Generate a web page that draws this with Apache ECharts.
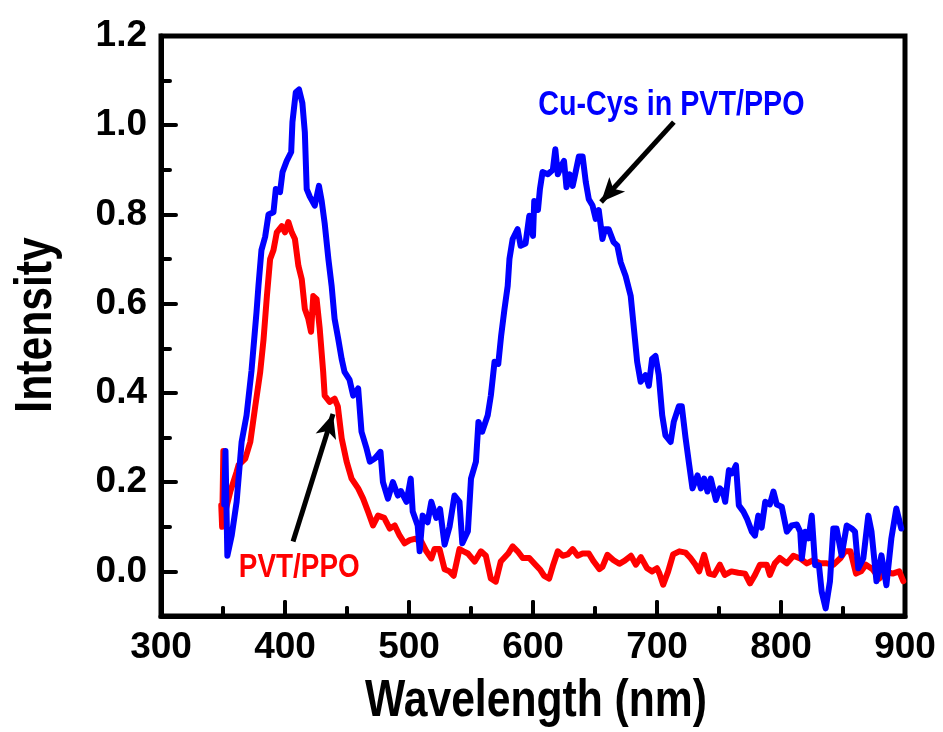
<!DOCTYPE html>
<html>
<head>
<meta charset="utf-8">
<script src="https://cdn.jsdelivr.net/npm/echarts@6/dist/echarts.min.js"></script>
<style>
html,body{margin:0;padding:0;background:#fff;}
#chart{width:943px;height:732px;}
</style>
</head>
<body>
<div id="chart"></div>
<script>
// ---- Data ----
const xTickLabels = ['300','400','500','600','700','800','900'];
const yTickLabels = ['0.0','0.2','0.4','0.6','0.8','1.0','1.2'];
const xTitle = 'Wavelength (nm)';
const yTitle = 'Intensity';

const blueName = 'Cu-Cys in PVT/PPO';
const blueWavelength = [351,352,353.5,357,361,365,369,373,377,378.6,381,384,386.7,390.7,392.6,396,398,401.4,405,406,408.7,411.3,414,416,417.5,420,424,427.4,429.6,432,435,437.6,440,443,445.7,448,452,455,459,461.7,465.8,468.4,472.4,477,479,483,487,491,493.5,498,501.4,503,507,508.6,511,515,518,522,525,528.7,532.7,536.7,540.7,543,547.5,550,554,556,559,563.5,566,569,572,574.3,577,579.6,581,583.6,587.6,590,594,597,600,601,604,605.6,607.7,612,616,618,620,622.7,625,627,629.6,632,634,637,640,642.6,645,648,650.6,653,656,658,661,665,668,670.7,674.7,678.8,681.4,684,686.8,690.8,693.4,696,698.8,701.4,704.2,706.8,711,713.5,717.6,720,723,726,728.6,732.7,735.4,738,740.7,743.4,747.5,750.7,753,755,758,760.6,763.7,766,769.7,772.4,776.5,779,781.7,784.4,787.3,791,793.9,796.6,800.6,804.7,808.7,812.8,815.5,816.8,819.5,822.2,824.8,827.5,830.6,832.8,836,839.5,842.2,844.8,848.9,853,857,859.7,862.3,866.4,870.4,873,877,881,885,889,893,897];
const blueIntensity = [0.15,0.27,0.035,0.08,0.156,0.29,0.35,0.45,0.58,0.64,0.72,0.75,0.80,0.805,0.857,0.85,0.895,0.92,0.94,1.007,1.074,1.08,1.05,0.984,0.857,0.84,0.82,0.864,0.83,0.78,0.70,0.64,0.566,0.52,0.476,0.447,0.43,0.394,0.41,0.313,0.275,0.246,0.253,0.268,0.20,0.163,0.20,0.17,0.18,0.156,0.208,0.134,0.103,0.045,0.125,0.11,0.156,0.12,0.14,0.06,0.10,0.17,0.156,0.063,0.09,0.208,0.246,0.335,0.313,0.35,0.394,0.47,0.465,0.528,0.588,0.64,0.70,0.745,0.767,0.73,0.735,0.797,0.752,0.83,0.81,0.857,0.895,0.89,0.90,0.946,0.89,0.908,0.92,0.861,0.89,0.864,0.89,0.93,0.93,0.872,0.834,0.82,0.79,0.81,0.745,0.767,0.767,0.738,0.73,0.693,0.662,0.617,0.544,0.47,0.425,0.44,0.416,0.476,0.483,0.44,0.35,0.305,0.29,0.335,0.37,0.37,0.30,0.238,0.186,0.215,0.186,0.208,0.179,0.208,0.16,0.186,0.18,0.156,0.227,0.22,0.238,0.148,0.134,0.119,0.089,0.08,0.125,0.098,0.156,0.15,0.179,0.15,0.145,0.089,0.103,0.105,0.089,0.029,0.089,0.074,0.125,0.014,0.014,-0.045,-0.083,-0.022,0.096,0.096,0.036,0.103,0.096,0.089,0.007,0.029,0.125,0.089,-0.022,0.036,-0.031,0.074,0.141,0.096];

const redName = 'PVT/PPO';
const redWavelength = [348.6,349.3,350.3,351.5,356,361,362.5,368,372,376,380,382.7,385.4,388,390.7,393.4,397.4,400,402.7,405.4,408,410.8,413.5,416,418.8,421,422.8,425.5,428,430.8,432,436,440,442.6,445.7,449.7,453.7,459,463,467,471,475,480,484.5,488.5,492.5,496.5,500.6,504.6,510,514,518,520.6,524.6,528.7,532.7,536,540.7,544,547.5,553,558,562,566,570,574,580,583.6,587.6,591.7,597,602,606,609,613,616,620,624,628,632,636,640,645,649,653.6,656,660,665,669.6,674,679,683,687,692,696,700,702,705,709,713,718,723,727,731,734,738,742,746,750.7,754.7,760,765.5,771,775,779,783,788.5,791,795,799,804.7,810,815.4,820.8,826,831.6,837,842.4,848,851.6,856,860.5,864.5,868.5,873.9,879.3,884.6,890,895.4,898.6];
const redIntensity = [0.148,0.10,0.27,0.13,0.18,0.223,0.238,0.253,0.29,0.37,0.447,0.52,0.617,0.70,0.72,0.76,0.774,0.76,0.783,0.76,0.745,0.685,0.655,0.588,0.566,0.537,0.617,0.61,0.544,0.447,0.394,0.38,0.387,0.37,0.298,0.246,0.208,0.186,0.163,0.134,0.103,0.125,0.12,0.096,0.103,0.08,0.063,0.07,0.073,0.067,0.045,0.029,0.05,0.05,0.005,0.0,-0.01,0.05,0.045,0.04,0.022,0.045,0.035,-0.016,-0.023,0.022,0.04,0.056,0.045,0.03,0.03,0.015,0.003,-0.01,-0.016,0.012,0.045,0.035,0.038,0.05,0.035,0.04,0.04,0.022,0.005,0.01,0.037,0.025,0.017,0.024,0.035,0.015,0.032,0.007,0.0,0.007,-0.005,-0.03,0.0,0.038,0.045,0.042,0.03,0.015,0.0,0.037,-0.005,-0.008,0.015,-0.008,0.0,-0.003,-0.005,-0.027,-0.008,0.015,0.015,-0.008,0.018,0.03,0.018,0.035,0.029,0.018,0.025,0.018,0.018,0.015,0.03,0.045,0.045,-0.005,0.0,0.015,0.005,-0.016,0.0,-0.005,0.0,-0.022];

// x tick positions (major every 100 nm, minor halfway)
const xMajorTicks = [300, 400, 500, 600, 700, 800, 900];
const xMinorTicks = [350, 450, 550, 650, 750, 850];

// ---- Chart ----
const FONT = '"Liberation Sans", Arial, sans-serif';
const NARROW = 0.82; // reference uses a condensed bold face
const pairs = (xs, ys) => xs.map((x, i) => [x, ys[i]]);

const chart = echarts.init(document.getElementById('chart'), null, {renderer: 'canvas'});

const gridLeft = 161, gridRight = 38, gridTop = 36, gridBottom = 116;
const yMin = -0.1, yMax = 1.2;
const plotH = 732 - gridTop - gridBottom;
const zeroFromBottom = gridBottom + plotH * (0 - yMin) / (yMax - yMin);
const unitPx = plotH / (yMax - yMin);        // pixels per intensity unit
const majorLen = 14 / unitPx, minorLen = 8 / unitPx;

const tickStyle = {color: '#000', width: 4, cap: 'round'};
const labelStyle = {fontFamily: FONT, fontWeight: 'bold', fontSize: 37, color: '#000'};

const tickSegments = xMajorTicks.map(v => [{coord: [v, yMin]}, {coord: [v, yMin + majorLen]}])
  .concat(xMinorTicks.map(v => [{coord: [v, yMin]}, {coord: [v, yMin + minorLen]}]));

const option = {
  animation: false,
  backgroundColor: '#fff',
  grid: [
    {left: gridLeft, right: gridRight, top: gridTop, bottom: gridBottom, show: true, borderColor: '#000', borderWidth: 5, backgroundColor: 'transparent'},
    {left: gridLeft, right: gridRight, top: gridTop, bottom: zeroFromBottom, show: false}
  ],
  xAxis: [
    {
      type: 'value', gridIndex: 0, position: 'bottom', min: 300, max: 900, interval: 100,
      axisLine: {show: true, onZero: false, lineStyle: {color: '#000', width: 5}},
      axisTick: {show: true, inside: true, length: 14, lineStyle: tickStyle},
      minorTick: {show: true, splitNumber: 2, length: 8, lineStyle: tickStyle},
      axisLabel: Object.assign({margin: 13,
        formatter: (v) => { const s = String(Math.round(v)); return xTickLabels.includes(s) ? s : ''; }}, labelStyle),
      splitLine: {show: false}
    },
    {type: 'value', gridIndex: 1, min: 300, max: 900, show: false}
  ],
  yAxis: [
    {
      type: 'value', gridIndex: 0, position: 'left', min: yMin, max: yMax, interval: 0.1,
      axisLine: {show: true, onZero: false, lineStyle: {color: '#000', width: 5}},
      axisTick: {show: true, inside: true, length: 9, lineStyle: tickStyle},
      axisLabel: {show: false},
      splitLine: {show: false}
    },
    {
      type: 'value', gridIndex: 1, position: 'left', min: 0, max: 1.2, interval: 0.2,
      axisLine: {show: false, onZero: false},
      axisTick: {show: true, inside: true, length: 15, lineStyle: tickStyle},
      axisLabel: Object.assign({margin: 14,
        formatter: (v) => { const s = v.toFixed(1); return yTickLabels.includes(s) ? s : ''; }}, labelStyle),
      splitLine: {show: false}
    }
  ],
  series: [
    {
      name: redName, type: 'line', xAxisIndex: 0, yAxisIndex: 0,
      data: pairs(redWavelength, redIntensity),
      showSymbol: false, symbol: 'none', smooth: false,
      lineStyle: {color: '#ff0000', width: 6, cap: 'round', join: 'round'},
      itemStyle: {color: '#ff0000'},
      z: 2,
      markLine: {
        silent: true, symbol: ['none', 'arrow'], symbolSize: [16, 24],
        label: {show: false},
        lineStyle: {color: '#000', width: 5, type: 'solid'},
        data: [[{coord: [406.5, 0.067]}, {coord: [438.7, 0.353]}]]
      }
    },
    {
      name: blueName, type: 'line', xAxisIndex: 0, yAxisIndex: 0,
      data: pairs(blueWavelength, blueIntensity),
      showSymbol: false, symbol: 'none', smooth: false,
      lineStyle: {color: '#0000ff', width: 6, cap: 'round', join: 'round'},
      itemStyle: {color: '#0000ff'},
      z: 3,
      markLine: {
        silent: true, symbol: ['none', 'arrow'], symbolSize: [16, 24],
        label: {show: false},
        lineStyle: {color: '#000', width: 5, type: 'solid'},
        data: [[{coord: [713.6, 1.007]}, {coord: [654.9, 0.828]}]]
      }
    },
    {
      name: 'x ticks', type: 'line', xAxisIndex: 0, yAxisIndex: 0,
      data: [], silent: true, z: 4,
      markLine: {
        silent: true, symbol: ['none', 'none'],
        label: {show: false},
        lineStyle: {color: '#000', width: 4, type: 'solid', cap: 'round'},
        data: tickSegments
      }
    }
  ]
};
chart.setOption(option);

// Titles and annotations as condensed real text
const bluePos = chart.convertToPixel({gridIndex: 0}, [711.6, 1.045]);
const redPos = chart.convertToPixel({gridIndex: 0}, [411.5, 0.008]);
chart.setOption({
  graphic: [
    {type: 'text', x: 536, y: 702, scaleX: NARROW, silent: true,
      style: {text: xTitle, fontFamily: FONT, fontWeight: 'bold', fontSize: 52, fill: '#000', align: 'center', verticalAlign: 'middle'}},
    {type: 'text', x: 37, y: 325, rotation: Math.PI / 2, scaleX: NARROW, silent: true,
      style: {text: yTitle, fontFamily: FONT, fontWeight: 'bold', fontSize: 52, fill: '#000', align: 'center', verticalAlign: 'middle'}},
    {type: 'text', x: bluePos[0], y: bluePos[1], scaleX: NARROW, silent: true,
      style: {text: blueName, fontFamily: FONT, fontWeight: 'bold', fontSize: 35, fill: '#0000ff', align: 'center', verticalAlign: 'middle'}},
    {type: 'text', x: redPos[0], y: redPos[1], scaleX: NARROW, silent: true,
      style: {text: redName, fontFamily: FONT, fontWeight: 'bold', fontSize: 34, fill: '#ff0000', align: 'center', verticalAlign: 'middle'}}
  ]
});
</script>
</body>
</html>
